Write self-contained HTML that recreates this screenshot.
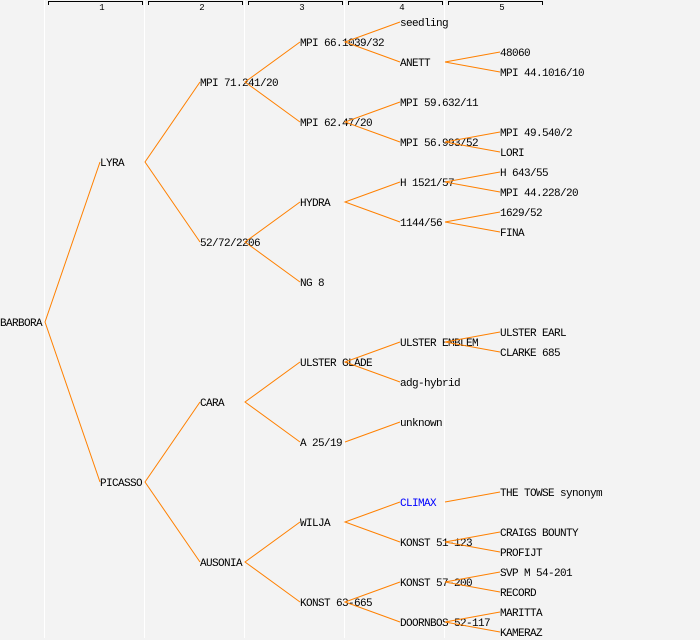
<!DOCTYPE html>
<html><head><meta charset="utf-8"><style>
html,body{margin:0;padding:0;background:#f3f3f3;}
svg{display:block;}
text{font-family:"Liberation Mono",monospace;font-size:11px;letter-spacing:-0.6px;fill:#000;}
.h{font-size:9px;letter-spacing:0;}
</style></head><body>
<svg width="700" height="640" xmlns="http://www.w3.org/2000/svg">
<rect width="700" height="640" fill="#f3f3f3"/>
<g stroke="#fff" stroke-width="1">
<line x1="44.5" y1="0" x2="44.5" y2="638"/>
<line x1="144.5" y1="0" x2="144.5" y2="638"/>
<line x1="244.5" y1="0" x2="244.5" y2="638"/>
<line x1="344.5" y1="0" x2="344.5" y2="638"/>
<line x1="444.5" y1="0" x2="444.5" y2="638"/>
</g>
<g stroke="#000" stroke-width="1" fill="none">
<path d="M48.5,5 V1.5 H142.5 V5"/>
<path d="M148.5,5 V1.5 H242.5 V5"/>
<path d="M248.5,5 V1.5 H342.5 V5"/>
<path d="M348.5,5 V1.5 H442.5 V5"/>
<path d="M448.5,5 V1.5 H542.5 V5"/>
</g>
<g class="h" text-anchor="middle">
<text class="h" x="102" y="10">1</text>
<text class="h" x="202" y="10">2</text>
<text class="h" x="302" y="10">3</text>
<text class="h" x="402" y="10">4</text>
<text class="h" x="502" y="10">5</text>
</g>
<g id="labels">
<text x="0" y="326">BARBORA</text>
<text x="100" y="166">LYRA</text>
<text x="100" y="486">PICASSO</text>
<text x="200" y="86">MPI 71.241/20</text>
<text x="200" y="246">52/72/2206</text>
<text x="200" y="406">CARA</text>
<text x="200" y="566">AUSONIA</text>
<text x="300" y="46">MPI 66.1039/32</text>
<text x="300" y="126">MPI 62.47/20</text>
<text x="300" y="206">HYDRA</text>
<text x="300" y="286">NG 8</text>
<text x="300" y="366">ULSTER GLADE</text>
<text x="300" y="446">A 25/19</text>
<text x="300" y="526">WILJA</text>
<text x="300" y="606">KONST 63-665</text>
<text x="400" y="26">seedling</text>
<text x="400" y="66">ANETT</text>
<text x="400" y="106">MPI 59.632/11</text>
<text x="400" y="146">MPI 56.993/52</text>
<text x="400" y="186">H 1521/57</text>
<text x="400" y="226">1144/56</text>
<text x="400" y="346">ULSTER EMBLEM</text>
<text x="400" y="386">adg-hybrid</text>
<text x="400" y="426">unknown</text>
<text x="400" y="506" style="fill:#0000ff">CLIMAX</text>
<text x="400" y="546">KONST 51-123</text>
<text x="400" y="586">KONST 57-200</text>
<text x="400" y="626">DOORNBOS 52-117</text>
<text x="500" y="56">48060</text>
<text x="500" y="76">MPI 44.1016/10</text>
<text x="500" y="136">MPI 49.540/2</text>
<text x="500" y="156">LORI</text>
<text x="500" y="176">H 643/55</text>
<text x="500" y="196">MPI 44.228/20</text>
<text x="500" y="216">1629/52</text>
<text x="500" y="236">FINA</text>
<text x="500" y="336">ULSTER EARL</text>
<text x="500" y="356">CLARKE 685</text>
<text x="500" y="496">THE TOWSE synonym</text>
<text x="500" y="536">CRAIGS BOUNTY</text>
<text x="500" y="556">PROFIJT</text>
<text x="500" y="576">SVP M 54-201</text>
<text x="500" y="596">RECORD</text>
<text x="500" y="616">MARITTA</text>
<text x="500" y="636">KAMERAZ</text>
</g>
<g stroke="#ff8000" stroke-width="1" fill="none">
<path d="M100,162 L45,322 L100,482"/>
<path d="M200,82 L145,162 L200,242"/>
<path d="M200,402 L145,482 L200,562"/>
<path d="M300,42 L245,82 L300,122"/>
<path d="M300,202 L245,242 L300,282"/>
<path d="M300,362 L245,402 L300,442"/>
<path d="M300,522 L245,562 L300,602"/>
<path d="M400,22 L345,42 L400,62"/>
<path d="M400,102 L345,122 L400,142"/>
<path d="M400,182 L345,202 L400,222"/>
<path d="M400,342 L345,362 L400,382"/>
<path d="M345,442 L400,422"/>
<path d="M400,502 L345,522 L400,542"/>
<path d="M400,582 L345,602 L400,622"/>
<path d="M500,52 L445,62 L500,72"/>
<path d="M500,132 L445,142 L500,152"/>
<path d="M500,172 L445,182 L500,192"/>
<path d="M500,212 L445,222 L500,232"/>
<path d="M500,332 L445,342 L500,352"/>
<path d="M445,502 L500,492"/>
<path d="M500,532 L445,542 L500,552"/>
<path d="M500,572 L445,582 L500,592"/>
<path d="M500,612 L445,622 L500,632"/>
</g>
</svg>
</body></html>
